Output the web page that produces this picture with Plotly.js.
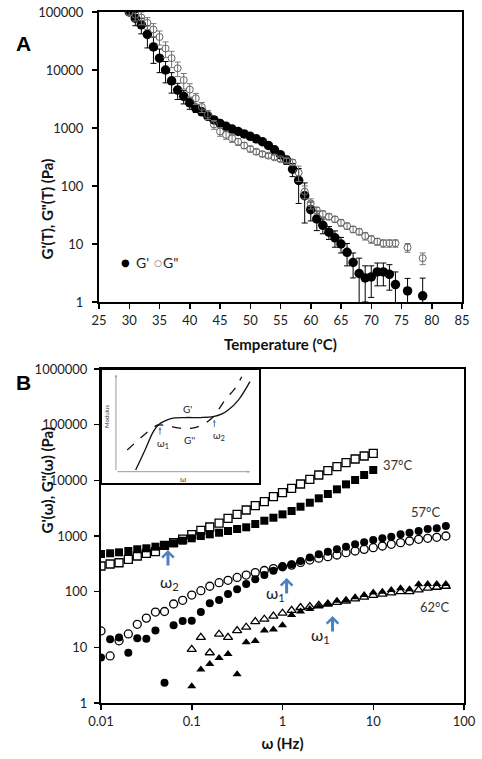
<!DOCTYPE html>
<html>
<head>
<meta charset="utf-8">
<script src="https://cdn.plot.ly/plotly-3.0.1.min.js"></script>
<style>html,body{margin:0;padding:0;background:#fff}#chart{width:482px;height:759px}</style>
</head>
<body>
<div id="chart"></div>
<script>
// ---------- Panel A data: temperature sweep ----------
const tempA = [30,31,32,33,34,35,36,37,38,39,40,41,42,43,44,45,46,47,48,49,50,51,52,53,54,55,56,57,58,59,60,61,62,63,64,65,66,67,68,69,70,71,72,73,74,76,78.5];
const gPrimeT = [100000,78000,60000,41000,25000,16000,10000,6500,4500,3500,2700,2200,1900,1600,1380,1200,1070,960,870,790,720,650,580,500,420,345,280,195,125,68,39,27,21,16,12.8,10,7.2,4.8,3.1,2.6,2.7,3.3,3.3,3.0,2.0,1.55,1.28];
const gPrimeTErr = [8000,20000,18000,17000,12000,7000,4000,2500,1400,900,600,350,250,220,180,150,120,100,80,70,60,55,50,45,45,45,45,50,75,45,14,10,6,4,4,3,3,2.2,2.6,1.6,1.5,1.4,1.4,1.4,1.3,1.0,1.3];
const gDoubleT = [98000,90000,80000,65000,50000,37000,23500,16000,10700,6700,4600,3250,2300,1700,1150,870,760,665,580,500,435,390,356,333,312,290,275,255,170,80,50,38,33,29.6,26.7,23.3,20.4,17.9,16.3,13.7,12.1,11,10.3,10.3,10.3,8.7,5.7];
const gDoubleTErr = [10000,20000,20000,15000,13000,10000,7000,5000,3000,2000,1200,700,450,300,200,150,120,100,80,60,50,40,35,30,28,25,25,30,50,20,10,5,4,3.5,3,3,2.5,2.2,2,2,1.8,1.5,1.5,1.5,1.5,1.5,1.3];
const xTicksA = [25,30,35,40,45,50,55,60,65,70,75,80,85];
const yTicksA = [1,10,100,1000,10000,100000];
const yTickTextA = ['1','10','100','1000','10000','100000'];
const legendNamesA = ["G'", 'G"'];

// ---------- Panel B data: frequency sweeps ----------
const freq = [0.01,0.0126,0.0158,0.02,0.0251,0.0316,0.0398,0.0501,0.0631,0.0794,0.1,0.126,0.158,0.2,0.251,0.316,0.398,0.501,0.631,0.794,1,1.26,1.58,2,2.51,3.16,3.98,5.01,6.31,7.94,10,12.6,15.8,20,25.1,31.6,39.8,50.1,63.1];
const freq37 = freq.slice(0,31);
const freq62 = freq.slice(10);
const g37p  = [475,489,509,538,577,601,643,689,739,823,909,1000,1072,1146,1230,1335,1432,1641,1882,2132,2448,2810,3360,3963,4753,5680,6890,8470,10140,12470,15320];
const g37pp = [289,314,331,381,437,489,522,680,760,880,1060,1260,1450,1710,2076,2448,2930,3500,4130,5080,6000,7180,8590,10420,12470,14890,17580,20750,24150,27350,30550];
const g57p  = [6.6,14,15,8,14.5,14.2,20,2.3,25,29.7,30,43,62,71,91,111,137,167,199,238,281,310,355,410,470,520,576,643,709,771,848,909,972,1072,1146,1230,1335,1375,1512];
const g57pp = [19.7,7.0,13.1,17.4,25.9,33.5,43,44,60,70,87,104,125,145,160,180,199,220,240,260,280,300,335,370,400,425,456,501,538,576,617,661,709,760,813,872,909,947,1000];
const g62p  = [2.0,4.0,5.0,6.4,7.6,3.3,12.3,13,20,21,25,38,44,49,54,60,69,71,79,87,97,100,107,115,110,136,138,138,138];
const g62pp = [9.2,15.1,8.0,17.2,15.1,20,23,29,32,36.5,41,46,52,54,57,60,64,68,74,80,86,90,95,100,100,108,116,120,125];
const xTicksB = [0.01,0.1,1,10,100];
const xTickTextB = ['0.01','0.1','1','10','100'];
const yTicksB = [1,10,100,1000,10000,100000,1000000];
const yTickTextB = ['1','10','100','1000','10000','100000','1000000'];
// crossover arrows
const crossFreq = [0.0547, 1.11, 3.56];
const crossMod  = [560, 176, 36.6];
const crossLabelFreq = [0.0575, 0.83, 2.59];
const crossLabelMod  = [149, 91, 16];
const crossLabels = ['ω<sub>2</sub>','ω<sub>1</sub>','ω<sub>1</sub>'];
const tempLabels = ['37°C','57°C','62°C'];
const tempLabelFreq = [18.3, 37.2, 47.9];
const tempLabelMod = [18800, 2700, 53];

// ---------- Inset (schematic) ----------
const insetGpX = [2.18,2.77,3.29,3.60,3.92,4.45,5.28,6.23,7.06,7.61,8.0,8.64,9.37];
const insetGpY = [1.22,2.96,4.55,5.13,5.42,5.71,5.78,5.78,5.85,6.09,6.43,7.30,8.90];
const insetGppX = [1.65,2.35,3.08,3.60,4.23,5.08,5.91,6.54,7.06,7.80,8.43,8.85];
const insetGppY = [2.96,3.83,4.70,5.13,5.04,4.84,4.90,5.28,5.85,7.30,8.32,9.33];

const blue = 'rgb(79,129,189)';
const traces = [
  {x: tempA, y: gPrimeT, xaxis:'x', yaxis:'y', type:'scatter', mode:'markers', name:legendNamesA[0], showlegend:false,
   marker:{symbol:'circle', size:9.5, color:'#000'},
   error_y:{type:'data', array:gPrimeTErr, visible:true, color:'#000', thickness:1, width:3}},
  {x: tempA, y: gDoubleT, xaxis:'x', yaxis:'y', type:'scatter', mode:'markers', name:legendNamesA[1], showlegend:false,
   marker:{symbol:'circle-open', size:7, color:'#666', line:{width:1}},
   error_y:{type:'data', array:gDoubleTErr, visible:true, color:'#777', thickness:1, width:3}},
  {x: freq37, y: g37pp, xaxis:'x2', yaxis:'y2', mode:'markers', showlegend:false, name:"G'' 37°C",
   marker:{symbol:'square', size:8, color:'#fff', line:{color:'#000', width:1.3}}},
  {x: freq37, y: g37p, xaxis:'x2', yaxis:'y2', mode:'markers', showlegend:false, name:"G' 37°C",
   marker:{symbol:'square', size:8, color:'#000'}},
  {x: freq, y: g57pp, xaxis:'x2', yaxis:'y2', mode:'markers', showlegend:false, name:"G'' 57°C",
   marker:{symbol:'circle', size:8, color:'#fff', line:{color:'#000', width:1.3}}},
  {x: freq, y: g57p, xaxis:'x2', yaxis:'y2', mode:'markers', showlegend:false, name:"G' 57°C",
   marker:{symbol:'circle', size:8, color:'#000'}},
  {x: freq62, y: g62pp, xaxis:'x2', yaxis:'y2', mode:'markers', showlegend:false, name:"G'' 62°C",
   marker:{symbol:'triangle-up', size:8, color:'#fff', line:{color:'#000', width:1.3}}},
  {x: freq62, y: g62p, xaxis:'x2', yaxis:'y2', mode:'markers', showlegend:false, name:"G' 62°C",
   marker:{symbol:'triangle-up', size:8, color:'#000'}},
  {x: insetGpX, y: insetGpY, xaxis:'x3', yaxis:'y3', mode:'lines', showlegend:false, name:"G' schematic",
   line:{color:'#111', width:1.3, shape:'spline'}},
  {x: insetGppX, y: insetGppY, xaxis:'x3', yaxis:'y3', mode:'lines', showlegend:false, name:"G'' schematic",
   line:{color:'#111', width:1.3, dash:'dash', shape:'spline'}}
];

const axCommon = {showline:true, mirror:true, linewidth:2, linecolor:'#000', showgrid:false, zeroline:false,
  ticks:'outside', ticklen:5, tickwidth:1.5, tickcolor:'#000', tickfont:{size:13, color:'#222'}};

const titleFont = {size:15, color:'#111'};
const annotations = [
  {text:'<b>A</b>', xref:'paper', yref:'paper', x:14/482, y:1-30/759, showarrow:false, font:{size:21, family:'Liberation Sans, Arial, sans-serif', color:'#000'}},
  {text:'<b>B</b>', xref:'paper', yref:'paper', x:14/482, y:1-382/759, showarrow:false, font:{size:21, family:'Liberation Sans, Arial, sans-serif', color:'#000'}},
  // y-axis titles
  {text:'<b>G\'(T), G"(T) (Pa)</b>', xref:'paper', yref:'paper', x:35/482, y:1-157/759, textangle:-90, showarrow:false, font:titleFont},
  {text:'<b>G\'(ω), G"(ω) (Pa)</b>', xref:'paper', yref:'paper', x:35/482, y:1-536/759, textangle:-90, showarrow:false, font:titleFont},
  // panel A legend
  {text:'●', xref:'paper', yref:'paper', x:120/482, y:1-263/759, showarrow:false, borderpad:0, font:{size:10, color:'#000', family:'DejaVu Sans'}},
  {text:legendNamesA[0], xref:'paper', yref:'paper', x:134.5/482, y:1-262/759, showarrow:false, borderpad:0, font:{size:14, color:'#222'}},
  {text:'○', xref:'paper', yref:'paper', x:153/482, y:1-263/759, showarrow:false, borderpad:0, font:{size:9, color:'#666', family:'DejaVu Sans'}},
  {text:legendNamesA[1], xref:'paper', yref:'paper', x:170/482, y:1-262/759, showarrow:false, borderpad:0, font:{size:14, color:'#222'}}
];
for (let i = 0; i < 3; i++) {
  annotations.push({xref:'x2', yref:'y2', x:Math.log10(crossFreq[i]), y:Math.log10(crossMod[i]), text:'',
    showarrow:true, arrowhead:4, arrowsize:0.75, arrowwidth:3, arrowcolor:blue, ax:0, ay:17});
  annotations.push({xref:'x2', yref:'y2', x:Math.log10(crossLabelFreq[i]), y:Math.log10(crossLabelMod[i]), text:crossLabels[i],
    showarrow:false, font:{size:16, color:'#222'}});
  annotations.push({xref:'x2', yref:'y2', x:Math.log10(tempLabelFreq[i]), y:Math.log10(tempLabelMod[i]), text:tempLabels[i],
    showarrow:false, font:{size:13, color:'#333'}});
}
// inset axes (arrows) and labels
annotations.push({xref:'x3', yref:'y3', axref:'x3', ayref:'y3', x:9.37, y:1.07, ax:0.94, ay:1.07, text:'', showarrow:true, arrowhead:2, arrowsize:0.5, arrowwidth:1, arrowcolor:'#999'});
annotations.push({xref:'x3', yref:'y3', axref:'x3', ayref:'y3', x:0.94, y:9.5, ax:0.94, ay:1.07, text:'', showarrow:true, arrowhead:2, arrowsize:0.5, arrowwidth:1, arrowcolor:'#999'});
annotations.push({xref:'x3', yref:'y3', x:0.3, y:5.9, text:'Modulus', textangle:-90, showarrow:false, font:{size:6, color:'#333'}});
annotations.push({xref:'x3', yref:'y3', x:5.16, y:0.45, text:'ω', showarrow:false, font:{size:8, color:'#333'}});
annotations.push({xref:'x3', yref:'y3', x:5.43, y:6.55, text:"G'", showarrow:false, font:{size:10, color:'#222'}});
annotations.push({xref:'x3', yref:'y3', x:5.55, y:3.85, text:"G''", showarrow:false, font:{size:10, color:'#222'}});
annotations.push({xref:'x3', yref:'y3', x:3.92, y:3.5, text:'ω<sub>1</sub>', showarrow:false, font:{size:10, color:'#222'}});
annotations.push({xref:'x3', yref:'y3', x:7.4, y:4.25, text:'ω<sub>2</sub>', showarrow:false, font:{size:10, color:'#222'}});
annotations.push({xref:'x3', yref:'y3', x:3.71, y:4.95, text:'', showarrow:true, arrowhead:2, arrowsize:0.6, arrowwidth:1, arrowcolor:blue, ax:0, ay:9});
annotations.push({xref:'x3', yref:'y3', x:7.13, y:5.6, text:'', showarrow:true, arrowhead:2, arrowsize:0.6, arrowwidth:1, arrowcolor:blue, ax:0, ay:9});

const layout = {
  width:482, height:759, margin:{l:0, r:0, t:0, b:0},
  paper_bgcolor:'#fff', plot_bgcolor:'#fff',
  font:{family:'Lato, Carlito, "Open Sans", sans-serif', size:13, color:'#222'},
  showlegend:false,
  xaxis: Object.assign({}, axCommon, {domain:[99/482, 462/482], anchor:'y', range:[25,85], tickvals:xTicksA,
    title:{text:'<b>Temperature (°C)</b>', font:titleFont, standoff:13}}),
  yaxis: Object.assign({}, axCommon, {domain:[1-302/759, 1-12/759], anchor:'x', type:'log', range:[0,5],
    tickvals:yTicksA, ticktext:yTickTextA, ticklabelstandoff:6}),
  xaxis2: Object.assign({}, axCommon, {domain:[101/482, 464/482], anchor:'y2', type:'log', range:[-2,2],
    tickvals:xTicksB, ticktext:xTickTextB,
    title:{text:'<b>ω (Hz)</b>', font:titleFont, standoff:11}}),
  yaxis2: Object.assign({}, axCommon, {domain:[1-703/759, 1-369/759], anchor:'x2', type:'log', range:[0,6],
    tickvals:yTicksB, ticktext:yTickTextB, ticklabelstandoff:4}),
  xaxis3:{domain:[101/482, 260/482], anchor:'y3', range:[0,10], visible:false, fixedrange:true},
  yaxis3:{domain:[1-484/759, 1-369/759], anchor:'x3', range:[0,10], visible:false, fixedrange:true},
  shapes:[{type:'rect', xref:'paper', yref:'paper', x0:101/482, x1:260/482, y0:1-484/759, y1:1-369/759,
    line:{color:'#000', width:2}, fillcolor:'rgba(0,0,0,0)', layer:'above'}],
  annotations: annotations
};

Plotly.newPlot('chart', traces, layout, {staticPlot:true, displayModeBar:false});
</script>
</body>
</html>
